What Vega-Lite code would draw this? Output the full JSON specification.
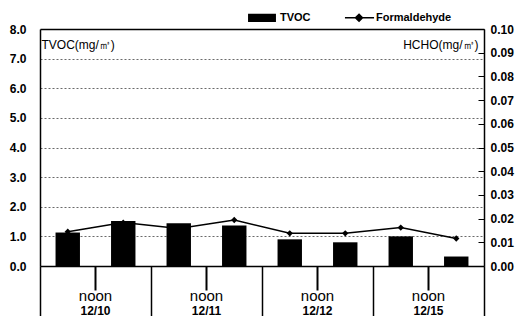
{
  "$schema": "https://vega.github.io/schema/vega-lite/v6.json",
  "width": 444,
  "height": 237,
  "autosize": {"type": "none"},
  "padding": {"left": 40, "top": 29, "right": 31, "bottom": 50},
  "background": "white",
  "config": {"view": {"stroke": null}, "font": "Liberation Sans"},
  "data": {
    "values": [
      {"time": "12/10 AM", "tvoc": 1.13, "hcho": 0.0145},
      {"time": "12/10 PM", "tvoc": 1.52, "hcho": 0.0183},
      {"time": "12/11 AM", "tvoc": 1.44, "hcho": 0.0158},
      {"time": "12/11 PM", "tvoc": 1.37, "hcho": 0.0194},
      {"time": "12/12 AM", "tvoc": 0.90, "hcho": 0.0138},
      {"time": "12/12 PM", "tvoc": 0.80, "hcho": 0.0138},
      {"time": "12/15 AM", "tvoc": 1.00, "hcho": 0.0162},
      {"time": "12/15 PM", "tvoc": 0.32, "hcho": 0.0116}
    ]
  },
  "layer": [
    {
      "mark": {"type": "bar", "width": {"band": 0.44}},
      "encoding": {
        "x": {
          "field": "time", "type": "ordinal", "sort": null,
          "scale": {"paddingInner": 0, "paddingOuter": 0},
          "axis": {
            "title": null, "bandPosition": 0, "labelAngle": 0, "grid": false,
            "domainColor": "black", "domainWidth": 1.5,
            "tickColor": "black", "tickOpacity": 1,
            "tickWidth": {"condition": {"test": "indexof(datum.value,'PM')>0", "value": 2}, "value": 1.5},
            "tickSize": {"condition": {"test": "indexof(datum.value,'AM')>0", "value": 50}, "value": 24},
            "labelExpr": "indexof(datum.value,'PM')>0 ? 'noon' : ''",
            "labelAlign": "center", "labelOffset": -27.75,
            "labelFontSize": 15, "labelColor": "black", "labelBaseline": "alphabetic", "labelPadding": 10
          }
        },
        "y": {
          "field": "tvoc", "type": "quantitative",
          "scale": {"domain": [0, 8], "nice": false},
          "axis": {
            "values": [0, 1, 2, 3, 4, 5, 6, 7, 8], "format": ".1f", "ticks": false,
            "labelPadding": 14, "labelFontSize": 12, "labelFontWeight": "bold", "labelColor": "black",
            "domainColor": "black", "domainWidth": 1.5,
            "grid": true,
            "gridColor": {"condition": {"test": "datum.value==8", "value": "black"}, "value": "#444"},
            "gridDash": {"condition": {"test": "datum.value==8", "value": []}, "value": [2, 2]},
            "gridWidth": {"condition": {"test": "datum.value==8", "value": 1.5}, "value": 0.8},
            "title": "TVOC(mg/㎥)", "titleAngle": 0, "titleX": 1, "titleY": 19,
            "titleAlign": "left", "titleBaseline": "alphabetic",
            "titleFontSize": 12, "titleFontWeight": "normal", "titleColor": "black"
          }
        },
        "color": {
          "datum": "TVOC", "type": "nominal",
          "scale": {"domain": ["TVOC", "Formaldehyde"], "range": ["black", "black"]},
          "legend": {
            "title": null, "orient": "none", "legendX": 191, "legendY": -30.5,
            "direction": "horizontal", "padding": 3, "fillColor": "white",
            "symbolSize": 900, "labelOffset": 14, "columnPadding": 19,
            "labelFontSize": 11, "labelFontWeight": "bold", "labelColor": "black",
            "symbolStrokeWidth": 1.5, "zindex": 1,
            "encode": {
              "symbols": {
                "update": {
                  "shape": {"signal": "datum.value === 'TVOC' ? 'M-0.08,-0.22H1.68V0.22H-0.08Z' : 'M-0.07,0H1.87M0.63,0L0.87,-0.23L1.1,0L0.87,0.23Z'"},
                  "fill": {"value": "black"},
                  "stroke": {"value": "black"},
                  "strokeWidth": {"value": 1.5},
                  "opacity": {"value": 1}
                }
              }
            }
          }
        }
      }
    },
    {
      "mark": {"type": "line", "strokeWidth": 1.5, "point": {"shape": "diamond", "size": 40, "filled": true, "color": "black"}},
      "encoding": {
        "x": {
          "field": "time", "type": "ordinal", "sort": null,
          "scale": {"paddingInner": 0, "paddingOuter": 0},
          "axis": {
            "orient": "bottom", "title": null, "bandPosition": 1, "labelAngle": 0, "grid": false,
            "domain": false,
            "tickColor": "black", "tickWidth": 1.5, "tickSize": 50,
            "tickOpacity": {"condition": {"test": "datum.value=='12/15 PM'", "value": 1}, "value": 0},
            "labelExpr": "indexof(datum.value,'AM')>0 ? slice(datum.value,0,5) : ''",
            "labelAlign": "center", "labelOffset": 27.75,
            "labelFontSize": 12, "labelFontWeight": "bold", "labelColor": "black",
            "labelBaseline": "alphabetic", "labelPadding": -2
          }
        },
        "y": {
          "field": "hcho", "type": "quantitative",
          "scale": {"domain": [0, 0.1], "nice": false},
          "axis": {
            "orient": "right",
            "values": [0, 0.01, 0.02, 0.03, 0.04, 0.05, 0.06, 0.07, 0.08, 0.09, 0.1],
            "format": ".2f", "grid": false,
            "tickSize": -6, "tickColor": "black", "tickWidth": 1,
            "labelPadding": 12, "labelFontSize": 12, "labelFontWeight": "bold", "labelColor": "black",
            "domainColor": "black", "domainWidth": 1.5,
            "title": "HCHO(mg/㎥)", "titleAngle": 0, "titleX": -6, "titleY": 19,
            "titleAlign": "right", "titleBaseline": "alphabetic",
            "titleFontSize": 12, "titleFontWeight": "normal", "titleColor": "black"
          }
        },
        "color": {"datum": "Formaldehyde", "type": "nominal"}
      }
    }
  ],
  "resolve": {"scale": {"y": "independent"}, "axis": {"x": "independent"}}
}
